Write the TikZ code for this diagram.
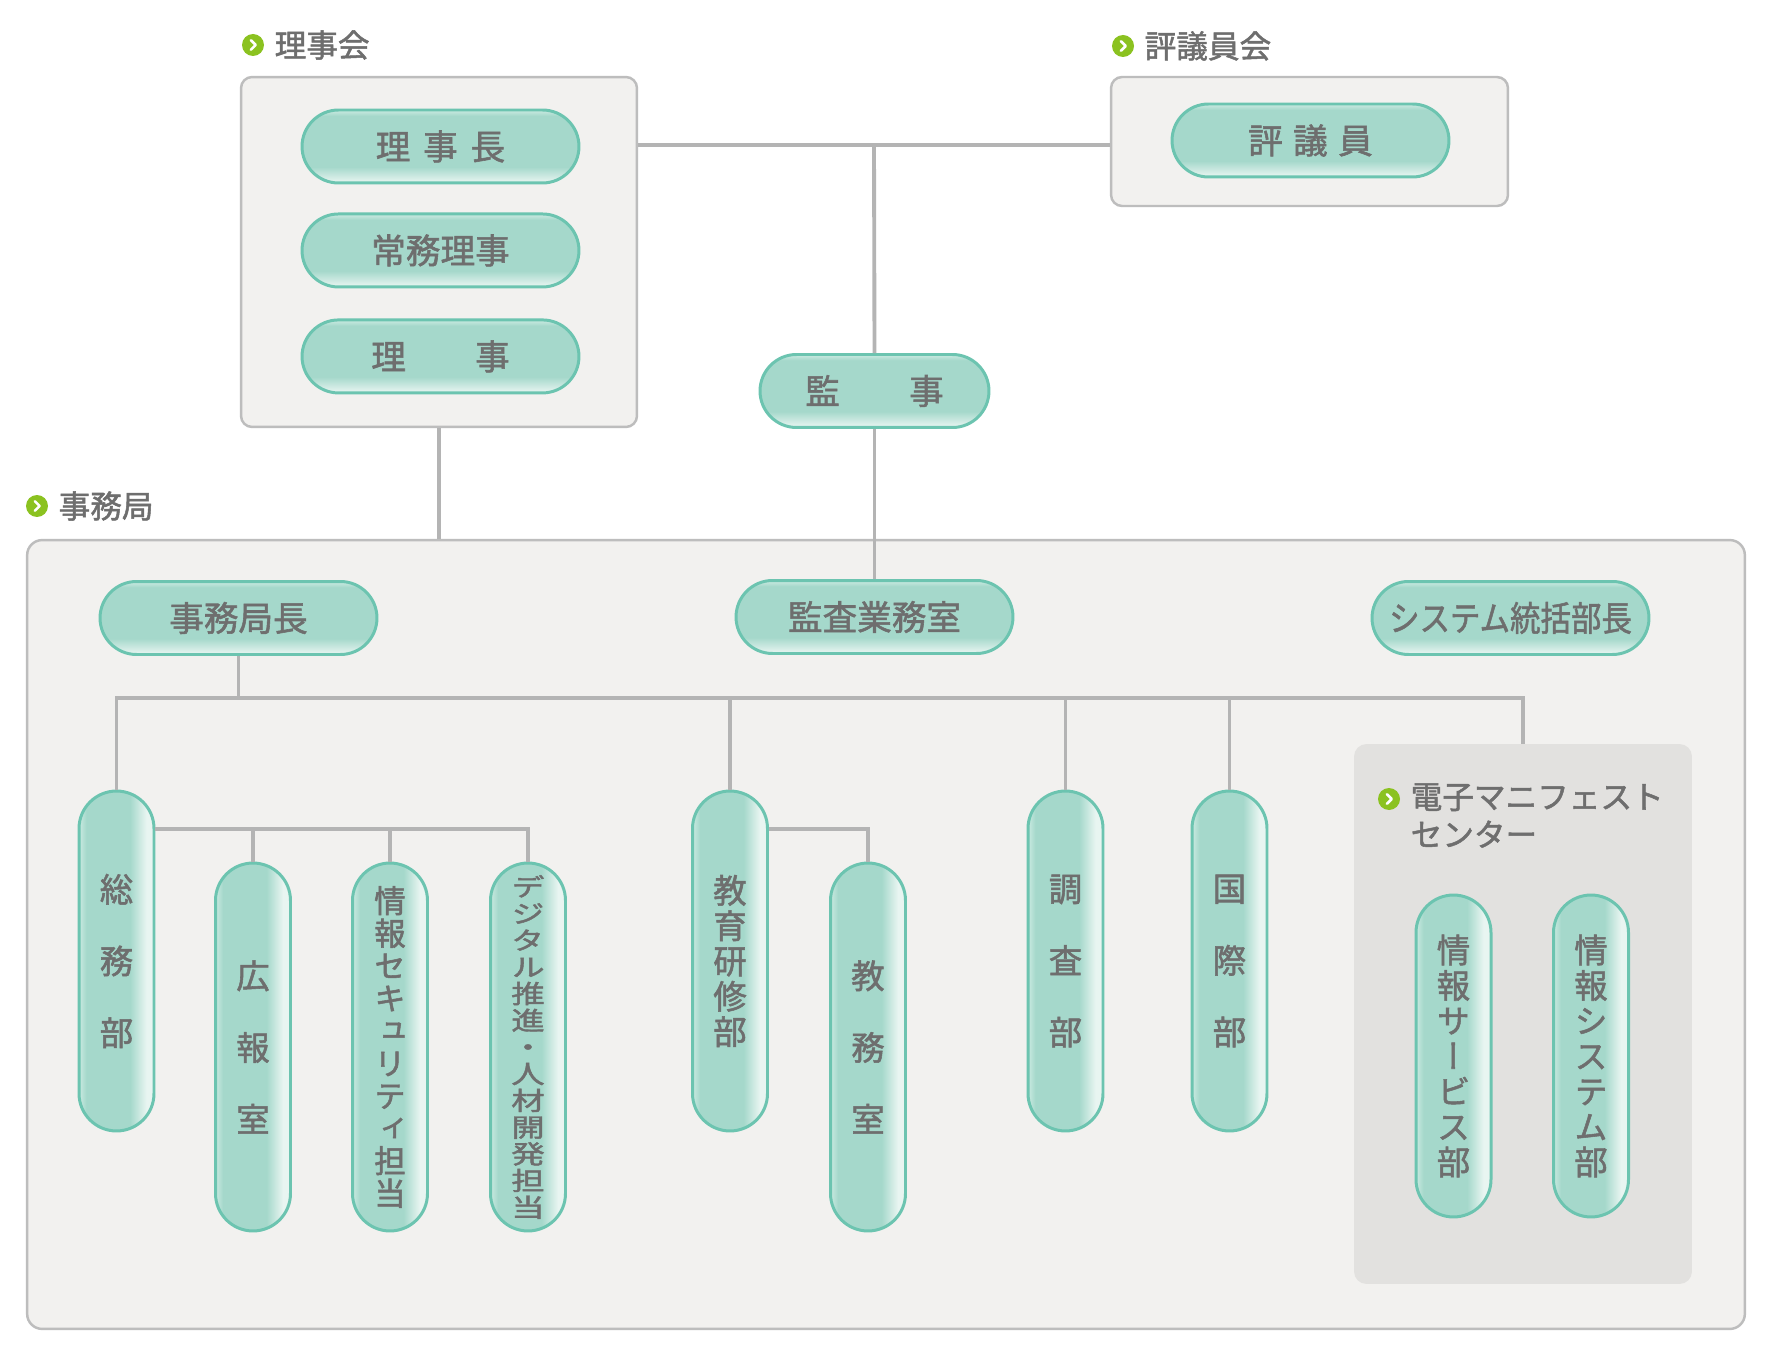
\documentclass[tikz,border=0pt]{standalone}
\usepackage{fontspec}
\setmainfont{Noto Sans CJK JP}[FakeBold=1.6]
\newfontfamily\vjp{Noto Sans CJK JP}[RawFeature=+vert, FakeBold=1.6]
\usetikzlibrary{positioning}
\definecolor{pillmain}{HTML}{A5D8CB}
\definecolor{pilllight}{HTML}{E8F5F1}
\definecolor{pilltop}{HTML}{C2E6DC}
\definecolor{pillborder}{HTML}{6CC4B0}
\definecolor{linegray}{HTML}{B4B4B4}
\definecolor{boxfill}{HTML}{F2F1EF}
\definecolor{boxborder}{HTML}{BDBDBD}
\definecolor{innerfill}{HTML}{E2E1DF}
\definecolor{textgray}{HTML}{6E6E6E}
\definecolor{bulletgreen}{HTML}{8BC220}
\pgfdeclareverticalshading{pillh}{100bp}{color(0bp)=(pilllight); color(25.5bp)=(pilllight); color(36bp)=(pillmain); color(71bp)=(pillmain); color(74bp)=(pilltop); color(100bp)=(pilltop)}
\pgfdeclarehorizontalshading{pillv}{100bp}{color(0bp)=(pilltop); color(26bp)=(pilltop); color(30bp)=(pillmain); color(59bp)=(pillmain); color(70bp)=(pilllight); color(75bp)=(pilllight); color(100bp)=(pilllight)}
\newcommand{\vsq}[1]{\scalebox{1}[0.76]{#1}}
\tikzstyle{groupbox} = [rectangle, draw=boxborder, line width=1.4pt, fill=boxfill, rounded corners=0.22cm, inner sep=0pt]
\tikzstyle{innerbox} = [rectangle, fill=innerfill, rounded corners=0.25cm, inner sep=0pt]
\tikzstyle{hpill} = [rectangle, draw=pillborder, line width=1.7pt, shading=pillh, rounded corners=0.73cm, minimum width=5.54cm, minimum height=1.46cm, inner sep=0pt, text=textgray, font=\fontsize{19.7pt}{24pt}\selectfont]
\tikzstyle{vpill} = [rectangle, draw=pillborder, line width=1.7pt, shading=pillv, rounded corners=0.75cm, minimum width=1.5cm, inner sep=0pt, text=textgray, align=center, font=\vjp\fontsize{19pt}{20.1pt}\selectfont]
\tikzstyle{vwide} = [font=\vjp\fontsize{19pt}{40.8pt}\selectfont]
\tikzstyle{bulletdot} = [circle, fill=bulletgreen, minimum size=0.44cm, inner sep=0pt, path picture={\draw[white, line width=1.5pt, line cap=round, line join=round] ([xshift=-1.2pt,yshift=2.7pt]path picture bounding box.center) -- ([xshift=1.5pt]path picture bounding box.center) -- ([xshift=-1.2pt,yshift=-2.7pt]path picture bounding box.center);}]
\tikzstyle{heading} = [text=textgray, inner sep=0pt, font=\fontsize{18pt}{21.5pt}\selectfont]
\tikzstyle{link} = [draw=linegray, line width=2.2pt]

\begin{document}
\begin{tikzpicture}[x=0.02cm, y=-0.02cm]
	\fill [white] (0,0) rectangle (1772,1358);
	\useasboundingbox (0,0) rectangle (1772,1358);

	% group boxes
	\node [groupbox, minimum width=7.92cm, minimum height=7cm] (N1) at (439,252) {};
	\node [groupbox, minimum width=7.94cm, minimum height=2.58cm] (N2) at (1309.5,141.5) {};
	\node [groupbox, rounded corners=0.3cm, minimum width=34.36cm, minimum height=15.78cm] (N3) at (886,934.5) {};
	\node [innerbox, minimum width=6.76cm, minimum height=10.8cm] (N4) at (1523,1014) {};

	% group titles
	\node [bulletdot] (B1) at (253,45) {};
	\node [heading, right=0.2cm of B1] (T1) {理事会};
	\node [bulletdot] (B2) at (1123,46) {};
	\node [heading, right=0.2cm of B2] (T2) {評議員会};
	\node [bulletdot] (B3) at (37,506) {};
	\node [heading, right=0.2cm of B3] (T3) {事務局};
	\node [bulletdot] (B4) at (1389,799) {};
	\node [heading, align=left, anchor=north west] (T4) at ([xshift=0.2cm,yshift=0.32cm]B4.east) {電子マニフェスト\\センター};

	% place nodes
	\node [hpill] (N5) at (440.5,146.5) {理\hspace{0.37em}事\hspace{0.37em}長};
	\node [hpill, below=0.56cm of N5] (N6) {常務理事};
	\node [hpill, below=0.6cm of N6] (N7) {理　　事};
	\node [hpill] (N8) at (1310.5,140.5) {評\hspace{0.3em}議\hspace{0.3em}員};
	\node [hpill, minimum width=4.58cm] (N9) at (874.5,391) {監　　事};
	\node [hpill] (N10) at (238.5,618) {事務局長};
	\node [hpill] (N11) at (874.5,617) {監査業務室};
	\node [hpill] (N12) at (1510.5,618) {\scalebox{0.88}[1]{システム統括部長}};

	\node [vpill, vwide, minimum height=6.8cm] (N13) at (116.5,961) {総\\務\\部};
	\node [vpill, vwide, minimum height=7.36cm] (N14) at (253,1047) {広\\報\\室};
	\node [vpill, minimum height=7.36cm, font=\vjp\fontsize{18pt}{18.5pt}\selectfont] (N15) at (390,1047) {情\\報\\セ\\キ\\ュ\\リ\\テ\\ィ\\担\\当};
	\node [vpill, minimum height=7.36cm, font=\vjp\fontsize{19pt}{15.2pt}\selectfont] (N16) at (528,1047) {\vsq{デ}\\\vsq{ジ}\\\vsq{タ}\\\vsq{ル}\\\vsq{推}\\\vsq{進}\\\vsq{・}\\\vsq{人}\\\vsq{材}\\\vsq{開}\\\vsq{発}\\\vsq{担}\\\vsq{当}};
	\node [vpill, minimum height=6.8cm] (N17) at (730,961) {教\\育\\研\\修\\部};
	\node [vpill, vwide, minimum height=7.36cm] (N18) at (868,1047) {教\\務\\室};
	\node [vpill, vwide, minimum height=6.8cm] (N19) at (1065.5,961) {調\\査\\部};
	\node [vpill, vwide, minimum height=6.8cm] (N20) at (1229.5,961) {国\\際\\部};
	\node [vpill, minimum height=6.44cm] (N21) at (1453.5,1056) {情\\報\\サ\\ー\\ビ\\ス\\部};
	\node [vpill, minimum height=6.44cm] (N22) at (1591,1056) {情\\報\\シ\\ス\\テ\\ム\\部};

	% draw edges
	\coordinate (J1) at (874,145);
	\coordinate (J2) at (238.5,698);
	\coordinate (J3) at (0,829);
	\path [link] (N1.east |- J1) -- (N2.west |- J1);
	\path [link] (J1) -- (N9.north);
	\path [link] (N9.south) -- (N11.north);
	\path [link] (N1.south) -- (N1.south |- N3.north);
	\path [link] (N10.south) -- (J2);
	\path [link] (N13.north) -- (N13.north |- J2) -- (N4.north |- J2) -- (N4.north);
	\path [link] (N17.north |- J2) -- (N17.north);
	\path [link] (N19.north |- J2) -- (N19.north);
	\path [link] (N20.north |- J2) -- (N20.north);
	\path [link] (N13.east |- J3) -- (N16.north |- J3) -- (N16.north);
	\path [link] (N14.north |- J3) -- (N14.north);
	\path [link] (N15.north |- J3) -- (N15.north);
	\path [link] (N17.east |- J3) -- (N18.north |- J3) -- (N18.north);
\end{tikzpicture}
\end{document}
